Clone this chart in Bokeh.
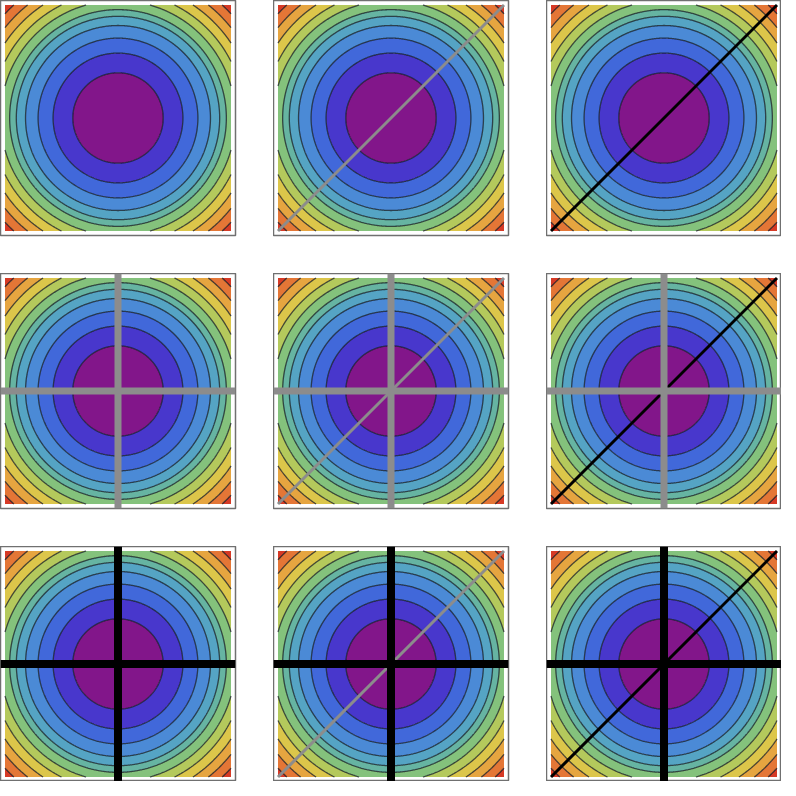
import numpy as np
from bokeh.plotting import figure
from bokeh.layouts import gridplot
from bokeh.models import Range1d, Span
from bokeh.embed import file_html
from bokeh.resources import INLINE

# contour levels of f(x, y) = x^2 + y^2 on [-1, 1]^2
levels = [0.0, 0.16, 0.33, 0.50, 0.67, 0.81, 0.92, 1.08, 1.25, 1.44, 1.64, 1.85, 2.0]
band_colors = [
    "#82168a", "#4837cc", "#4168da", "#4b8ad6", "#55a4c4", "#66b4a2",
    "#84c27c", "#b4c95c", "#dcc64a", "#e6a540", "#e47636", "#d63a26",
]
domain = [-1.0, 1.0]
pad = 0.04

# overlay configuration: rows -> cross lines, columns -> diagonal line
cross_colors = [None, "#8c8c8c", "#000000"]
cross_widths = [0, 7, 8]
diag_colors = [None, "#8c8c8c", "#000000"]
diag_widths = [0, 3, 3]

frame = 235
gap = 38

n = 301
xs = np.linspace(domain[0], domain[1], n)
X, Y = np.meshgrid(xs, xs)
Z = X ** 2 + Y ** 2

rows = []
for r in range(3):
    row = []
    for c in range(3):
        right = gap if c < 2 else 0
        bottom = gap if r < 2 else 0
        p = figure(width=frame + right, height=frame + bottom,
                   output_backend="svg", toolbar_location=None,
                   x_axis_location=None, y_axis_location=None,
                   x_range=Range1d(domain[0] - pad, domain[1] + pad),
                   y_range=Range1d(domain[0] - pad, domain[1] + pad),
                   min_border_left=0, min_border_top=0,
                   min_border_right=right, min_border_bottom=bottom)
        p.grid.visible = False
        p.outline_line_color = "#707070"
        p.outline_line_width = 1.5
        p.background_fill_color = "white"
        p.border_fill_color = "white"
        p.contour(xs, xs, Z, levels, fill_color=band_colors,
                  line_color="#101820", line_alpha=0.75, line_width=1.3)
        if cross_colors[r]:
            for dim in ("width", "height"):
                p.add_layout(Span(location=0, dimension=dim,
                                  line_color=cross_colors[r],
                                  line_width=cross_widths[r]))
        if diag_colors[c]:
            p.line(domain, domain, line_color=diag_colors[c],
                   line_width=diag_widths[c])
        row.append(p)
    rows.append(row)

g = gridplot(rows, toolbar_location=None)
open("out.html", "w").write(file_html(g, INLINE))
